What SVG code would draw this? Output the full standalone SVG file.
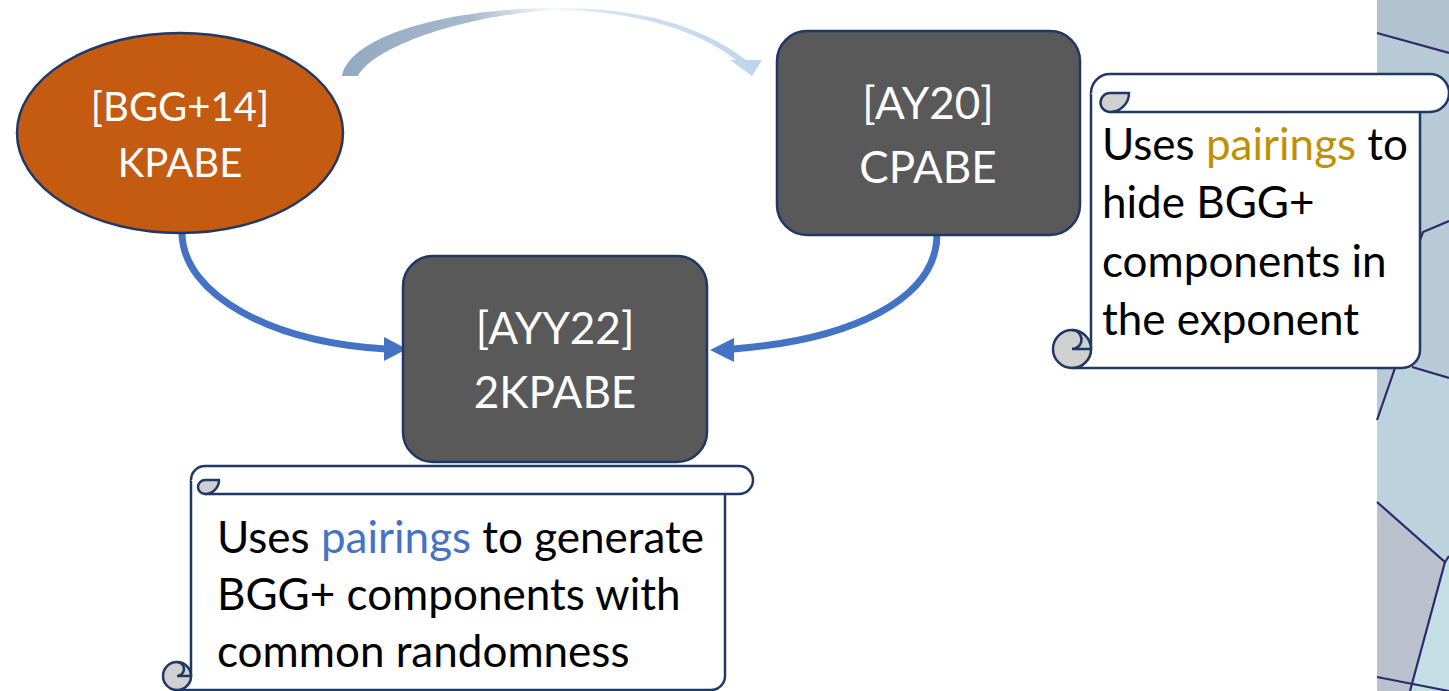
<svg xmlns="http://www.w3.org/2000/svg" width="1449" height="691" viewBox="0 0 1449 691">
  <style>
    .lbl { font-family: "Lato", "Liberation Sans", sans-serif; fill: #ffffff; text-anchor: middle; }
    .note { font-family: "Lato", "Liberation Sans", sans-serif; font-size: 44px; fill: #000000; }
    .edge { fill: none; stroke: #4472c4; stroke-width: 7; }
    .head { fill: #4472c4; }
    .box { fill: #595959; stroke: #1f3864; stroke-width: 2.5; }
    .paper { fill: #ffffff; stroke: #1f3864; stroke-width: 2.5; stroke-linejoin: round; }
    .curl { fill: #d0d0d0; stroke: #1f3864; stroke-width: 2.5; stroke-linejoin: round; }
    .line { fill: none; stroke: #1f3864; stroke-width: 2.5; }
    .crack { fill: none; stroke: #2a2a6c; stroke-width: 2.2; }
  </style>
  <defs>
    <linearGradient id="arcFade" gradientUnits="userSpaceOnUse" x1="342" y1="0" x2="765" y2="0">
      <stop offset="0" stop-color="#92aac1"/>
      <stop offset="0.3" stop-color="#a6b9cc"/>
      <stop offset="0.5" stop-color="#f7fafd"/>
      <stop offset="0.62" stop-color="#d3e3f2"/>
      <stop offset="1" stop-color="#bcd5ec"/>
    </linearGradient>
  </defs>

  <rect width="1449" height="691" fill="#ffffff"/>

  <!-- textured strip at the right edge -->
  <g id="backdrop">
    <rect x="1377" y="0" width="72" height="691" fill="#b7cad6"/>
    <polygon points="1377,0 1449,0 1449,53 1377,33" fill="#b3c2cf"/>
    <polygon points="1377,420 1395,368 1412,367 1449,378 1449,556 1445,562 1377,502" fill="#bcd2dd"/>
    <polygon points="1377,502 1445,562 1410,691 1377,691" fill="#bac1cd"/>
    <polygon points="1445,562 1449,556 1449,691 1410,691" fill="#c4dee5"/>
    <path class="crack" d="M1377,33 L1449,53"/>
    <path class="crack" d="M1420,240 L1423,232 L1449,221"/>
    <path class="crack" d="M1395,368 L1377,420"/>
    <path class="crack" d="M1412,367 L1449,378"/>
    <path class="crack" d="M1377,502 L1445,562 L1449,556"/>
    <path class="crack" d="M1445,562 L1410,691"/>
    <path class="crack" d="M1377,677 L1449,691"/>
  </g>

  <g id="connectors">
    <!-- sweeping arc from KPABE over to CPABE -->
    <path d="M342,76 C350,35 450,8 557,8 C640,8 700,25 746,60 L762,60 L752,76 L730,60 L736,60 C700,32 640,11 557,10 C470,14 375,45 358,76 Z" fill="url(#arcFade)"/>
    <!-- KPABE to 2KPABE -->
    <path class="edge" d="M182,234 C184,295 270,342 386,349"/>
    <polygon class="head" points="407,349 384,337 384,361"/>
    <!-- CPABE to 2KPABE -->
    <path class="edge" d="M937,234 C937,300 850,340 733,349"/>
    <polygon class="head" points="710,350 734,338 734,362"/>
  </g>

  <g id="node-kpabe">
    <ellipse cx="180" cy="133" rx="163" ry="100" fill="#c55a11" stroke="#1f3864" stroke-width="2.5"/>
    <text class="lbl" x="180" y="121" font-size="40">[BGG+14]</text>
    <text class="lbl" x="180" y="177" font-size="40">KPABE</text>
  </g>

  <g id="node-cpabe">
    <rect class="box" x="777" y="31" width="303" height="204" rx="30"/>
    <text class="lbl" x="928" y="119" font-size="44">[AY20]</text>
    <text class="lbl" x="928" y="183" font-size="44">CPABE</text>
  </g>

  <g id="node-2kpabe">
    <rect class="box" x="403" y="256" width="304" height="206" rx="30"/>
    <text class="lbl" x="555" y="344" font-size="44">[AYY22]</text>
    <text class="lbl" x="555" y="408" font-size="44">2KPABE</text>
  </g>

  <!-- scroll note beside CPABE -->
  <g id="note-cpabe">
    <path class="paper" d="M1091,93 V349 A19,19 0 0 1 1072,368 H1402 A18,18 0 0 0 1420,350 V100"/>
    <circle class="curl" cx="1072" cy="349" r="19"/>
    <path class="line" d="M1072,330 A9.5,9.5 0 0 1 1072,349 H1091"/>
    <path class="paper" d="M1091,93 A19,19 0 0 1 1110,74 H1430 A19,19 0 0 1 1430,112 H1110"/>
    <path class="curl" d="M1110,93 H1129 A19,19 0 0 1 1110,112 A9.5,9.5 0 0 1 1110,93 Z"/>
    <text class="note" x="1102" y="160">Uses <tspan fill="#bf9000">pairings</tspan> to</text>
    <text class="note" x="1102" y="218">hide BGG+</text>
    <text class="note" x="1102" y="277">components in</text>
    <text class="note" x="1102" y="335">the exponent</text>
  </g>

  <!-- scroll note under 2KPABE -->
  <g id="note-2kpabe">
    <path class="paper" d="M191,480 V676 A14,14 0 0 1 177,690 H711 A14,14 0 0 0 725,676 V490"/>
    <circle class="curl" cx="177" cy="676" r="14"/>
    <path class="line" d="M177,662 A7,7 0 0 1 177,676 H191"/>
    <path class="paper" d="M191,480 A14,14 0 0 1 205,466 H739 A14,14 0 0 1 739,494 H205"/>
    <path class="curl" d="M205,480 H219 A14,14 0 0 1 205,494 A7,7 0 0 1 205,480 Z"/>
    <text class="note" x="217" y="553">Uses <tspan fill="#4472c4">pairings</tspan> to generate</text>
    <text class="note" x="217" y="610">BGG+ components with</text>
    <text class="note" x="217" y="667">common randomness</text>
  </g>
</svg>
